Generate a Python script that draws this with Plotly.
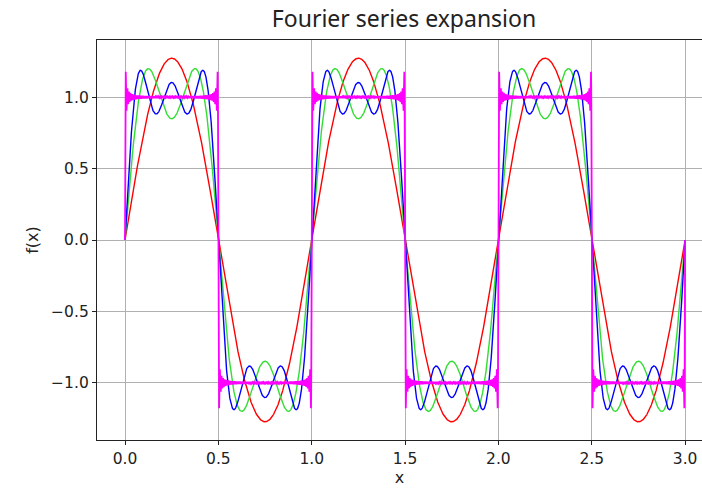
import numpy as np
import plotly.graph_objects as go

# Partial sums of the Fourier series of a unit square wave with period 1
x_start, x_end = 0.0, 3.0
n_samples = 3001
series_terms = [1, 2, 3, 60]          # number of odd harmonics in each partial sum
series_colors = ["#ff0000", "#33dd33", "#0000ff", "#ff00ff"]
series_widths = [1.4, 1.4, 1.4, 1.8]

x_tick_vals = [0.0, 0.5, 1.0, 1.5, 2.0, 2.5, 3.0]
x_tick_text = ["0.0", "0.5", "1.0", "1.5", "2.0", "2.5", "3.0"]
y_tick_vals = [-1.0, -0.5, 0.0, 0.5, 1.0]
y_tick_text = ["\u22121.0", "\u22120.5", "0.0", "0.5", "1.0"]

x = np.linspace(x_start, x_end, n_samples)


def partial_sum(xv, n_terms):
    s = np.zeros_like(xv)
    for k in range(1, n_terms + 1):
        n = 2 * k - 1
        s += np.sin(2 * np.pi * n * xv) / n
    return 4 / np.pi * s


fig = go.Figure()
curves = []
for n_terms, color, lw in zip(series_terms, series_colors, series_widths):
    y = partial_sum(x, n_terms)
    curves.append(y)
    fig.add_trace(go.Scatter(x=x, y=y, mode="lines",
                             line=dict(color=color, width=lw),
                             showlegend=False, hoverinfo="skip"))

ymax = max(np.max(np.abs(c)) for c in curves)
ypad = 0.1 * ymax
y_range = [-ymax - ypad, ymax + ypad]
x_pad = 0.05 * (x_end - x_start)

font = "DejaVu Sans"
fig.update_layout(
    width=702, height=494,
    margin=dict(l=97, r=0, t=40, b=54),
    paper_bgcolor="white", plot_bgcolor="white",
    title=dict(text="Fourier series expansion", x=404 / 702, xanchor="center",
               y=1 - 19 / 494, yanchor="middle",
               font=dict(family="Noto Sans", size=23, color="#222")),
    font=dict(family=font, size=15.5, color="#222"),
    xaxis=dict(range=[x_start - x_pad, x_start - x_pad + (702 - 97) / 186.7],
               tickvals=x_tick_vals, ticktext=x_tick_text,
               showgrid=True, gridcolor="#b0b0b0", gridwidth=1,
               zeroline=False, showline=True, linecolor="#222", linewidth=1.3,
               mirror=True, ticks="outside", ticklen=4, tickcolor="#222",
               title=dict(text="x", standoff=2, font=dict(size=16))),
    yaxis=dict(range=y_range,
               tickvals=y_tick_vals, ticktext=y_tick_text,
               showgrid=True, gridcolor="#b0b0b0", gridwidth=1,
               zeroline=False, showline=True, linecolor="#222", linewidth=1.3,
               ticks="outside", ticklen=4, tickcolor="#222",
               title=dict(text="f(x)", standoff=8, font=dict(size=16))),
)

fig.write_html("out.html")
